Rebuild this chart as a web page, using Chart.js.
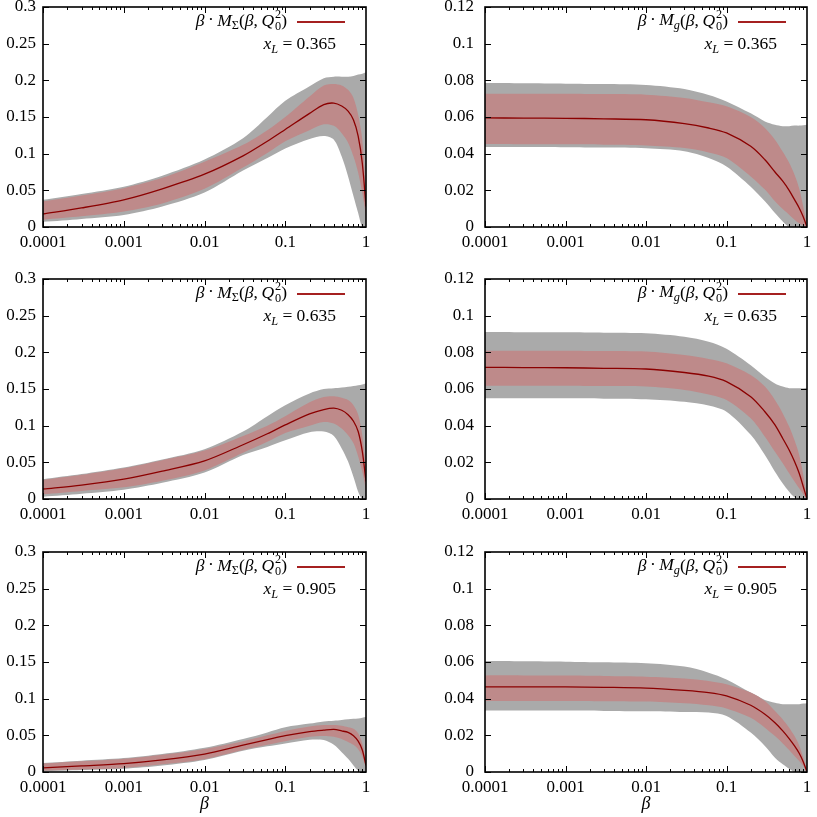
<!DOCTYPE html>
<html>
<head>
<meta charset="utf-8">
<script src="https://cdn.jsdelivr.net/npm/chart.js@4.4.1/dist/chart.umd.min.js"></script>
<style>
  body { margin: 0; background: #fff; width: 817px; height: 817px; position: relative; overflow: hidden; font-family: "Liberation Serif", serif; }
  canvas { position: absolute; }
  .lab { position: absolute; font-size: 17.5px; white-space: nowrap; line-height: 1; transform: translateY(-50%); color: #000; }
  .lab sub { font-size: 70%; vertical-align: -0.3em; line-height: 0; }
  .ss { display: inline-block; vertical-align: -0.35em; font-size: 70%; line-height: 0.95; margin-left: 1px; }
  .ss span { display: block; }
  .op { padding: 0 0.2em; }
  .key { position: absolute; height: 1.5px; background: #a52020; }
</style>
</head>
<body>
<script>
// beta grid (x values)
const beta = [0.0001, 0.0003, 0.001, 0.003, 0.01, 0.03, 0.06, 0.1, 0.2, 0.3, 0.4, 0.5, 0.6, 0.7, 0.8, 0.9, 1];

// tick labels
const xTicks = [0.0001, 0.001, 0.01, 0.1, 1];
const xTickLabels = ['0.0001', '0.001', '0.01', '0.1', '1'];
const yTicksSigma = [0, 0.05, 0.1, 0.15, 0.2, 0.25, 0.3];
const yLabelsSigma = ['0', '0.05', '0.1', '0.15', '0.2', '0.25', '0.3'];
const yTicksGluon = [0, 0.02, 0.04, 0.06, 0.08, 0.1, 0.12];
const yLabelsGluon = ['0', '0.02', '0.04', '0.06', '0.08', '0.1', '0.12'];

// beta * M_Sigma, x_L = 0.365
const sigMid365   = [0.0177, 0.026, 0.037, 0.052, 0.072, 0.097, 0.117, 0.133, 0.155, 0.167, 0.169, 0.165, 0.158, 0.146, 0.124, 0.087, 0.028];
const sigInHi365  = [0.035, 0.043, 0.053, 0.067, 0.089, 0.112, 0.132, 0.150, 0.178, 0.193, 0.195, 0.193, 0.187, 0.176, 0.153, 0.119, 0.046];
const sigInLo365  = [0.010, 0.0145, 0.021, 0.032, 0.052, 0.081, 0.101, 0.117, 0.132, 0.140, 0.138, 0.128, 0.115, 0.096, 0.074, 0.046, 0.015];
const sigOutHi365 = [0.037, 0.045, 0.055, 0.070, 0.092, 0.121, 0.150, 0.172, 0.192, 0.203, 0.205, 0.205, 0.205, 0.206, 0.208, 0.209, 0.211];
const sigOutLo365 = [0.007, 0.011, 0.0165, 0.028, 0.047, 0.077, 0.094, 0.107, 0.120, 0.124, 0.119, 0.096, 0.069, 0.042, 0.019, 0, 0];

// beta * M_Sigma, x_L = 0.635
const sigMid635   = [0.0136, 0.019, 0.027, 0.038, 0.052, 0.074, 0.089, 0.101, 0.116, 0.122, 0.124, 0.121, 0.115, 0.106, 0.092, 0.065, 0.024];
const sigInHi635  = [0.026, 0.033, 0.042, 0.053, 0.066, 0.086, 0.100, 0.113, 0.132, 0.139, 0.140, 0.138, 0.135, 0.128, 0.115, 0.087, 0.037];
const sigInLo635  = [0.0064, 0.011, 0.016, 0.025, 0.039, 0.063, 0.078, 0.090, 0.100, 0.105, 0.103, 0.096, 0.087, 0.076, 0.058, 0.037, 0.012];
const sigOutHi635 = [0.027, 0.034, 0.043, 0.054, 0.068, 0.092, 0.113, 0.128, 0.144, 0.150, 0.151, 0.152, 0.153, 0.154, 0.155, 0.156, 0.158];
const sigOutLo635 = [0.003, 0.007, 0.0125, 0.022, 0.036, 0.060, 0.071, 0.080, 0.091, 0.092, 0.086, 0.069, 0.051, 0.030, 0.010, 0, 0];

// beta * M_Sigma, x_L = 0.905
const sigMid905   = [0.0055, 0.0083, 0.0115, 0.0165, 0.0245, 0.0365, 0.044, 0.0495, 0.055, 0.057, 0.058, 0.056, 0.054, 0.0495, 0.042, 0.030, 0.009];
const sigInHi905  = [0.0115, 0.0145, 0.018, 0.0235, 0.0315, 0.042, 0.050, 0.056, 0.062, 0.064, 0.064, 0.063, 0.061, 0.059, 0.053, 0.039, 0.014];
const sigInLo905  = [0.002, 0.0035, 0.0055, 0.0105, 0.0175, 0.030, 0.037, 0.042, 0.048, 0.049, 0.048, 0.045, 0.041, 0.037, 0.031, 0.021, 0.0055];
const sigOutHi905 = [0.0124, 0.0155, 0.019, 0.0245, 0.033, 0.045, 0.054, 0.061, 0.066, 0.069, 0.070, 0.071, 0.072, 0.0725, 0.073, 0.074, 0.075];
const sigOutLo905 = [0.001, 0.0028, 0.0046, 0.009, 0.0165, 0.029, 0.035, 0.039, 0.044, 0.0435, 0.037, 0.027, 0.018, 0.009, 0.002, 0, 0];

// beta * M_g, x_L = 0.365
const gMid365   = [0.0595, 0.0594, 0.0593, 0.059, 0.0585, 0.0564, 0.054, 0.0513, 0.044, 0.0367, 0.030, 0.025, 0.020, 0.0149, 0.0104, 0.0055, 0];
const gInHi365  = [0.0727, 0.0727, 0.0727, 0.0725, 0.0722, 0.0704, 0.068, 0.0658, 0.060, 0.054, 0.0476, 0.041, 0.035, 0.0285, 0.021, 0.011, 0];
const gInLo365  = [0.0453, 0.0452, 0.0451, 0.0449, 0.0445, 0.0431, 0.0407, 0.0376, 0.0276, 0.0204, 0.014, 0.0098, 0.0067, 0.004, 0.002, 0.0007, 0];
const gOutHi365 = [0.0785, 0.0784, 0.0782, 0.078, 0.0775, 0.0753, 0.072, 0.0685, 0.062, 0.0576, 0.0558, 0.055, 0.055, 0.0553, 0.0553, 0.0555, 0.0558];
const gOutLo365 = [0.0436, 0.0436, 0.0435, 0.0433, 0.0429, 0.0413, 0.0376, 0.033, 0.022, 0.014, 0.0076, 0.003, 0, 0, 0, 0, 0];

// beta * M_g, x_L = 0.635
const gMid635   = [0.0718, 0.0717, 0.0716, 0.0713, 0.0709, 0.069, 0.067, 0.064, 0.0558, 0.0476, 0.0404, 0.033, 0.0267, 0.0204, 0.014, 0.0067, 0];
const gInHi635  = [0.0809, 0.0809, 0.0809, 0.0807, 0.0804, 0.0785, 0.0764, 0.074, 0.0676, 0.0613, 0.054, 0.0467, 0.0395, 0.032, 0.024, 0.013, 0];
const gInLo635  = [0.0618, 0.0618, 0.0618, 0.0616, 0.0613, 0.0595, 0.057, 0.054, 0.044, 0.034, 0.0258, 0.0195, 0.014, 0.0095, 0.0058, 0.0025, 0];
const gOutHi635 = [0.0911, 0.091, 0.0909, 0.0907, 0.0904, 0.0885, 0.0858, 0.082, 0.073, 0.0667, 0.063, 0.0613, 0.0604, 0.0604, 0.0604, 0.0604, 0.0607];
const gOutLo635 = [0.0549, 0.0549, 0.0549, 0.0547, 0.0544, 0.053, 0.051, 0.0476, 0.035, 0.024, 0.0149, 0.0085, 0.004, 0.001, 0, 0, 0];

// beta * M_g, x_L = 0.905
const gMid905   = [0.0464, 0.0464, 0.0464, 0.0462, 0.0458, 0.0445, 0.0433, 0.0415, 0.0364, 0.0315, 0.0269, 0.0224, 0.0182, 0.0142, 0.0102, 0.0055, 0];
const gInHi905  = [0.0527, 0.0527, 0.0526, 0.0524, 0.052, 0.051, 0.0496, 0.0478, 0.0433, 0.0387, 0.0333, 0.0287, 0.0242, 0.0196, 0.0145, 0.0078, 0];
const gInLo905  = [0.0387, 0.0387, 0.0387, 0.0386, 0.0384, 0.0375, 0.0364, 0.0347, 0.0296, 0.0242, 0.0196, 0.0156, 0.012, 0.0087, 0.006, 0.0033, 0];
const gOutHi905 = [0.0605, 0.0604, 0.0602, 0.0598, 0.0593, 0.0575, 0.0542, 0.0505, 0.0433, 0.0393, 0.0378, 0.037, 0.0369, 0.0369, 0.037, 0.0373, 0.0375];
const gOutLo905 = [0.0335, 0.0335, 0.0335, 0.0333, 0.0331, 0.0327, 0.0324, 0.0305, 0.0215, 0.0142, 0.0078, 0.0042, 0.0018, 0, 0, 0, 0];

const GRAY = '#aaaaaa';
const PINK = '#be8a8a';
const LINE = '#8b0000';
Chart.defaults.font.family = '"Liberation Serif", "Times New Roman", serif';
Chart.defaults.font.size = 17;
Chart.defaults.color = '#000';

const sigmaLabel = '<i>β</i><span class="op">·</span><i>M</i><sub>Σ</sub>(<i>β</i>,&thinsp;<i>Q</i><span class="ss"><span>2</span><span>0</span></span>)';
const gluonLabel = '<i>β</i><span class="op">·</span><i>M<sub>g</sub></i>(<i>β</i>,&thinsp;<i>Q</i><span class="ss"><span>2</span><span>0</span></span>)';

// inward ticks + frame, gnuplot style
const framePlugin = {
  id: 'frame',
  afterDraw(chart) {
    const { ctx, chartArea: a, scales: { x, y } } = chart;
    ctx.save();
    ctx.strokeStyle = '#000';
    ctx.lineWidth = 1;
    ctx.beginPath();
    for (let e = -4; e < 0; e++) {
      for (let m = 1; m < 10; m++) {
        const px = Math.round(x.getPixelForValue(m * Math.pow(10, e))) + 0.5;
        const len = m === 1 ? 6 : 3;
        ctx.moveTo(px, a.bottom); ctx.lineTo(px, a.bottom - len);
        ctx.moveTo(px, a.top); ctx.lineTo(px, a.top + len);
      }
    }
    y.ticks.forEach(t => {
      const py = Math.round(y.getPixelForValue(t.value)) + 0.5;
      ctx.moveTo(a.left, py); ctx.lineTo(a.left + 6, py);
      ctx.moveTo(a.right, py); ctx.lineTo(a.right - 6, py);
    });
    ctx.stroke();
    ctx.lineWidth = 1.6;
    ctx.strokeRect(a.left, a.top, a.right - a.left, a.bottom - a.top);
    ctx.restore();
  }
};

const panels = [
  { x: 0,   y: 0,   w: 372, h: 250, yw: 43, padR: 6, yPad: 7,  xh: 23, plotRight: 366, plotTop: 7,   yMax: 0.3,  yT: yTicksSigma, yL: yLabelsSigma, label: sigmaLabel, xl: '0.365', mid: sigMid365, inHi: sigInHi365, inLo: sigInLo365, outHi: sigOutHi365, outLo: sigOutLo365 },
  { x: 420, y: 0,   w: 392, h: 250, yw: 65, padR: 5, yPad: 11, xh: 23, plotRight: 807, plotTop: 7,   yMax: 0.12, yT: yTicksGluon, yL: yLabelsGluon, label: gluonLabel, xl: '0.365', mid: gMid365, inHi: gInHi365, inLo: gInLo365, outHi: gOutHi365, outLo: gOutLo365 },
  { x: 0,   y: 272, w: 372, h: 250, yw: 43, padR: 6, yPad: 7,  xh: 23, plotRight: 366, plotTop: 279, yMax: 0.3,  yT: yTicksSigma, yL: yLabelsSigma, label: sigmaLabel, xl: '0.635', mid: sigMid635, inHi: sigInHi635, inLo: sigInLo635, outHi: sigOutHi635, outLo: sigOutLo635 },
  { x: 420, y: 272, w: 392, h: 250, yw: 65, padR: 5, yPad: 11, xh: 23, plotRight: 807, plotTop: 279, yMax: 0.12, yT: yTicksGluon, yL: yLabelsGluon, label: gluonLabel, xl: '0.635', mid: gMid635, inHi: gInHi635, inLo: gInLo635, outHi: gOutHi635, outLo: gOutLo635 },
  { x: 0,   y: 545, w: 372, h: 272, yw: 43, padR: 6, yPad: 7,  xh: 45, plotRight: 366, plotTop: 552, yMax: 0.3,  yT: yTicksSigma, yL: yLabelsSigma, label: sigmaLabel, xl: '0.905', mid: sigMid905, inHi: sigInHi905, inLo: sigInLo905, outHi: sigOutHi905, outLo: sigOutLo905, title: true },
  { x: 420, y: 545, w: 392, h: 272, yw: 65, padR: 5, yPad: 11, xh: 45, plotRight: 807, plotTop: 552, yMax: 0.12, yT: yTicksGluon, yL: yLabelsGluon, label: gluonLabel, xl: '0.905', mid: gMid905, inHi: gInHi905, inLo: gInLo905, outHi: gOutHi905, outLo: gOutLo905, title: true }
];

function addText(html, right, cy) {
  const d = document.createElement('div');
  d.className = 'lab';
  d.innerHTML = html;
  d.style.right = (817 - right) + 'px';
  d.style.top = cy + 'px';
  document.body.appendChild(d);
}

panels.forEach(p => {
  const cv = document.createElement('canvas');
  cv.width = p.w;
  cv.height = p.h;
  cv.style.left = p.x + 'px';
  cv.style.top = p.y + 'px';
  document.body.appendChild(cv);

  const pts = arr => beta.map((b, i) => ({ x: b, y: arr[i] }));
  const band = (arr, fill, color, order) => ({
    data: pts(arr), fill: fill, backgroundColor: color, borderColor: 'rgba(0,0,0,0)',
    borderWidth: 0, pointRadius: 0, order: order
  });

  new Chart(cv, {
    type: 'line',
    data: {
      datasets: [
        band(p.outHi, '+1', GRAY, 3),
        band(p.outLo, false, GRAY, 3),
        band(p.inHi, '+1', PINK, 2),
        band(p.inLo, false, PINK, 2),
        { data: pts(p.mid), fill: false, borderColor: LINE, borderWidth: 1.3, pointRadius: 0, order: 1 }
      ]
    },
    options: {
      responsive: false,
      animation: false,
      devicePixelRatio: 1,
      layout: { padding: { top: 7, right: p.padR, left: 0, bottom: 0 } },
      elements: { line: { tension: 0.3, capBezierPoints: true } },
      plugins: { legend: { display: false }, tooltip: { enabled: false } },
      scales: {
        x: {
          type: 'logarithmic', min: 0.0001, max: 1,
          grid: { display: false, drawTicks: false },
          border: { display: false },
          afterBuildTicks: s => { s.ticks = xTicks.map(v => ({ value: v })); },
          afterFit: s => { s.height = p.xh; s.paddingLeft = 0; s.paddingRight = 0; },
          ticks: { autoSkip: false, maxRotation: 0, padding: 5, color: '#000', callback: (v, i) => xTickLabels[i] },
          title: { display: !!p.title, text: 'β', color: '#000', font: { size: 18, style: 'italic' }, padding: { top: 0, bottom: 2 } }
        },
        y: {
          min: 0, max: p.yMax,
          grid: { display: false, drawTicks: false },
          border: { display: false },
          afterBuildTicks: s => { s.ticks = p.yT.map(v => ({ value: v })); },
          afterFit: s => { s.width = p.yw; s.paddingTop = 0; s.paddingBottom = 0; },
          ticks: { padding: p.yPad, color: '#000', callback: (v, i) => p.yL[i] }
        }
      }
    },
    plugins: [framePlugin]
  });

  // key text, line sample and x_L note
  addText(p.label, p.plotRight - 79, p.plotTop + 14);
  const k = document.createElement('div');
  k.className = 'key';
  k.style.left = (p.plotRight - 69) + 'px';
  k.style.width = '48px';
  k.style.top = (p.plotTop + 14) + 'px';
  document.body.appendChild(k);
  addText('<i>x</i><sub><i>L</i></sub> = ' + p.xl, p.plotRight - 30, p.plotTop + 37);
});
</script>
</body>
</html>
